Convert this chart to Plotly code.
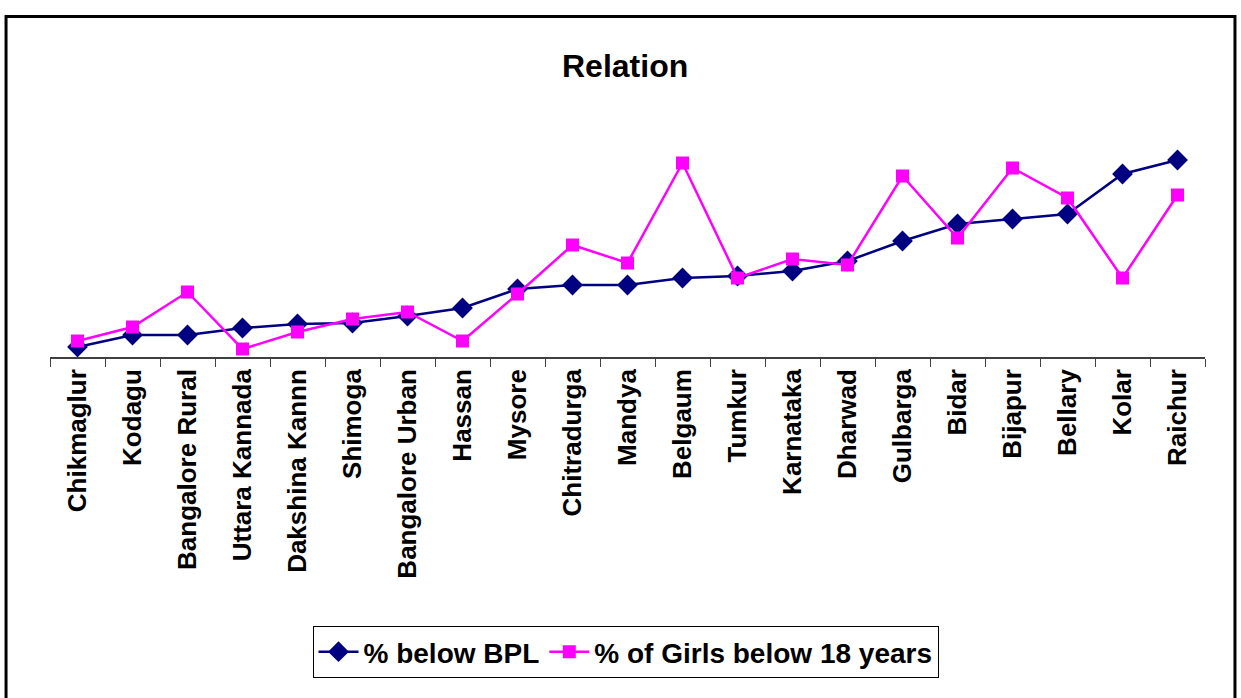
import plotly.graph_objects as go

# districts along the x axis
districts = ["Chikmaglur", "Kodagu", "Bangalore Rural", "Uttara Kannada", "Dakshina Kannn",
             "Shimoga", "Bangalore Urban", "Hassan", "Mysore", "Chitradurga", "Mandya",
             "Belgaum", "Tumkur", "Karnataka", "Dharwad", "Gulbarga", "Bidar", "Bijapur",
             "Bellary", "Kolar", "Raichur"]

# values (no visible y axis)
below_bpl = [2.0, 4.4, 4.4, 5.8, 6.6, 6.8, 8.2, 9.8, 13.6, 14.4, 14.4,
             15.8, 16.2, 17.2, 19.2, 23.2, 26.6, 27.6, 28.6, 36.6, 39.4]
girls_below_18 = [3.2, 6.0, 13.0, 1.6, 5.0, 7.6, 9.0, 3.2, 12.6, 22.4, 18.8,
                  38.8, 15.8, 19.6, 18.4, 36.2, 23.8, 37.8, 31.8, 15.8, 32.4]

W, H = 1241, 698
L, R, T, B = 49.5, 35.5, 97, 341
pw, ph = W - L - R, H - T - B


def px(x):
    return (x - L) / pw


def py(y):
    return (H - B - y) / ph


fig = go.Figure()
fig.add_trace(go.Scatter(
    x=districts, y=below_bpl, name="% below BPL", mode="lines+markers",
    line=dict(color="#000080", width=2.5),
    marker=dict(symbol="diamond", size=16, color="#000080"),
))
fig.add_trace(go.Scatter(
    x=districts, y=girls_below_18, name="% of Girls below 18 years", mode="lines+markers",
    line=dict(color="#FF00FF", width=2.5),
    marker=dict(symbol="square", size=13, color="#FF00FF"),
))

# outer chart frame
fig.add_shape(type="rect", xref="paper", yref="paper",
              x0=px(5.5), x1=px(1235.5), y0=py(702), y1=py(16.5),
              line=dict(color="black", width=3), fillcolor="rgba(0,0,0,0)")

fig.add_annotation(text="<b>Relation</b>", xref="paper", yref="paper",
                   x=px(625), y=py(66), xanchor="center", yanchor="middle", showarrow=False,
                   font=dict(family="Arial", size=32, color="black"))

fig.update_layout(
    width=W, height=H,
    margin=dict(l=L, r=R, t=T, b=B),
    paper_bgcolor="white", plot_bgcolor="white",
    font=dict(family="Arial", color="black"),
    showlegend=True,
    legend=dict(
        orientation="h", x=px(625.5), xanchor="center", y=py(626), yanchor="top",
        bordercolor="black", borderwidth=1, bgcolor="white",
        font=dict(size=28, family="Arial", weight="bold"),
        itemwidth=40,
    ),
    xaxis=dict(
        showline=True, linecolor="#404040", linewidth=1.5,
        ticks="outside", tickson="boundaries", ticklen=8, tickcolor="#404040",
        tickangle=-90, showgrid=False,
        tickfont=dict(size=26, family="Arial", weight="bold", color="black"),
        range=[-0.5, len(districts) - 0.5],
    ),
    yaxis=dict(visible=False, range=[0, 52], showgrid=False, zeroline=False),
)

fig.write_html("out.html", config={"displayModeBar": False},
               post_script="document.body.style.margin='0';")
